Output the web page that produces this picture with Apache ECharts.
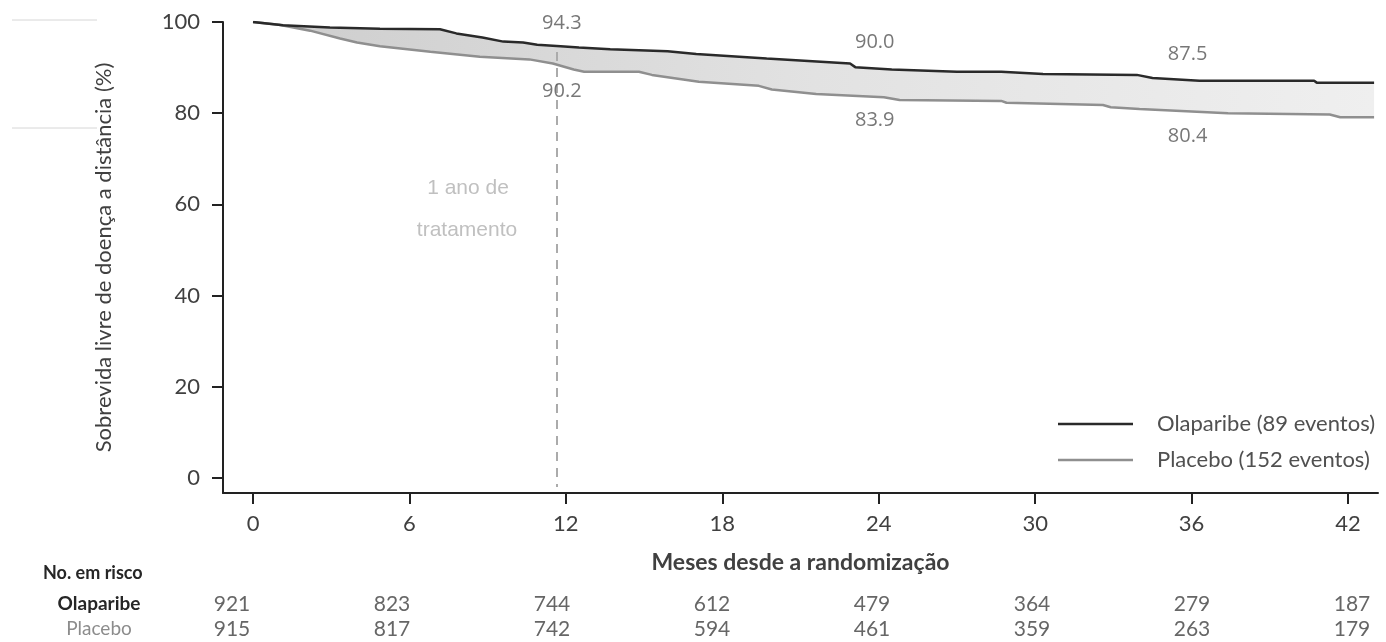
<!DOCTYPE html>
<html><head><meta charset="utf-8">
<script src="https://cdn.jsdelivr.net/npm/echarts@6/dist/echarts.min.js"></script>
<style>html,body{margin:0;padding:0;background:#fff}#c{width:1386px;height:642px}</style>
</head><body><div id="c"></div>
<script>
// ---- data ----
const olaMonths = [0, 1.15, 2.95, 4.87, 7.17, 7.8, 8.8, 9.6, 10.36, 10.9, 11.8, 12.5, 13.7, 15.9, 17.0, 19.7, 22.9, 23.1, 24.5, 27.0, 28.7, 30.3, 33.9, 34.5, 36.3, 40.7, 40.8, 43.0];
const olaValues = [100, 99.3, 98.8, 98.5, 98.4, 97.5, 96.6, 95.7, 95.5, 95.0, 94.7, 94.4, 94.0, 93.6, 93.0, 92.0, 90.9, 90.1, 89.6, 89.1, 89.1, 88.6, 88.4, 87.7, 87.1, 87.1, 86.7, 86.7];
const plaMonths = [0, 1.0, 2.19, 3.34, 3.99, 4.87, 6.8, 8.7, 10.6, 11.5, 12.3, 12.7, 14.8, 15.3, 17.1, 19.4, 19.9, 21.6, 24.2, 24.8, 28.7, 28.9, 32.6, 32.9, 34.0, 37.4, 41.3, 41.7, 43.0];
const plaValues = [100, 99.4, 98.1, 96.4, 95.5, 94.7, 93.5, 92.4, 91.8, 90.9, 89.6, 89.1, 89.1, 88.4, 86.9, 86.0, 85.2, 84.2, 83.5, 82.9, 82.7, 82.3, 81.8, 81.3, 80.9, 80.0, 79.7, 79.1, 79.1];
const xTicks = [0, 6, 12, 18, 24, 30, 36, 42];
const yTicks = [0, 20, 40, 60, 80, 100];
const annoMonths = [12, 24, 36];
const olaAnno = [94.3, 90.0, 87.5];
const plaAnno = [90.2, 83.9, 80.4];
const riskMonths = [0, 6, 12, 18, 24, 30, 36, 42];
const olaRisk = [921, 823, 744, 612, 479, 364, 279, 187];
const plaRisk = [915, 817, 742, 594, 461, 359, 263, 179];
const treatmentMonth = 11.65;
const treatmentTop = 93.4;
const seriesNames = ['Olaparibe (89 eventos)', 'Placebo (152 eventos)'];
const rowNames = ['Olaparibe', 'Placebo'];
const treatmentText = ['1 ano de', 'tratamento'];

// ---- chart ----
const chart = echarts.init(document.getElementById('c'), null, {renderer: 'canvas'});
const FONT = 'Lato';
const axisCol = '#222';
const labelCol = '#404040';

const option = {
  animation: false,
  backgroundColor: '#fff',
  grid: [
    {left: 223, right: 8, top: 22, bottom: 149},
    {left: 232, right: 34, top: 591, height: 58}
  ],
  xAxis: [
    {
      type: 'value', min: -1.151, max: 43.15, gridIndex: 0,
      axisLine: {show: true, onZero: false, lineStyle: {color: axisCol, width: 2}},
      axisTick: {show: true, customValues: xTicks, length: 11, lineStyle: {color: axisCol, width: 2}},
      axisLabel: {customValues: xTicks, margin: 20, fontFamily: FONT, fontSize: 22, color: labelCol},
      splitLine: {show: false},
      name: 'Meses desde a randomização', nameLocation: 'middle', nameGap: 58,
      nameTextStyle: {fontFamily: FONT, fontWeight: 'bold', fontSize: 23, color: labelCol}
    },
    {type: 'value', min: 0, max: 42, gridIndex: 1, show: false}
  ],
  yAxis: [
    {
      type: 'value', min: -3.29, max: 100, gridIndex: 0,
      axisLine: {show: true, onZero: false, lineStyle: {color: axisCol, width: 2}},
      axisTick: {show: true, customValues: yTicks, length: 11, lineStyle: {color: axisCol, width: 2}},
      axisLabel: {customValues: yTicks, margin: 23, fontFamily: FONT, fontSize: 22, color: labelCol},
      splitLine: {show: false},
      name: 'Sobrevida livre de doença a distância (%)', nameLocation: 'middle', nameGap: 108, nameRotate: 90,
      nameTextStyle: {fontFamily: FONT, fontSize: 22, color: labelCol}
    },
    {
      type: 'category', data: rowNames, inverse: true, gridIndex: 1,
      axisLine: {show: false}, axisTick: {show: false},
      axisLabel: {
        margin: 133, align: 'center',
        formatter: function (v, i) { return i === 0 ? '{b|' + v + '}' : '{p|' + v + '}'; },
        rich: {
          b: {fontFamily: FONT, fontSize: 19, fontWeight: 'bold', color: '#262626'},
          p: {fontFamily: FONT, fontSize: 19, color: '#8c8c8c'}
        }
      }
    }
  ],
  legend: {
    data: seriesNames, orient: 'vertical', left: 1053, top: 408,
    icon: 'rect', itemWidth: 75, itemHeight: 2.5, itemGap: 14, selectedMode: false,
    textStyle: {fontFamily: FONT, fontSize: 22, color: '#505050', padding: [0, 0, 0, 19]}
  },
  graphic: [
    {type: 'line', shape: {x1: 12, y1: 20, x2: 97, y2: 20}, style: {stroke: '#d6d6d6', lineWidth: 1}},
    {type: 'line', shape: {x1: 12, y1: 128, x2: 97, y2: 128}, style: {stroke: '#d6d6d6', lineWidth: 1}},
    {type: 'text', left: 43, top: 564, style: {text: 'No. em risco', fontFamily: FONT, fontSize: 18, fontWeight: 'bold', fill: '#262626'}},
    {type: 'text', x: 468, y: 188, style: {text: treatmentText[0], fontFamily: 'Liberation Sans', fontSize: 21, fill: '#c0c0c0', align: 'center', verticalAlign: 'middle'}},
    {type: 'text', x: 467, y: 230, style: {text: treatmentText[1], fontFamily: 'Liberation Sans', fontSize: 21, fill: '#c0c0c0', align: 'center', verticalAlign: 'middle'}}
  ],
  series: [
    {
      type: 'custom', name: 'band', xAxisIndex: 0, yAxisIndex: 0, silent: true, z: 1,
      data: [[0, 100]],
      renderItem: function (params, api) {
        const pts = [];
        for (let i = 0; i < olaMonths.length; i++) pts.push(api.coord([olaMonths[i], olaValues[i]]));
        for (let i = plaMonths.length - 1; i >= 0; i--) pts.push(api.coord([plaMonths[i], plaValues[i]]));
        return {
          type: 'polygon', shape: {points: pts},
          style: {fill: new echarts.graphic.LinearGradient(0, 0, 1, 0, [
            {offset: 0, color: '#cdcdcd'}, {offset: 0.5, color: '#e2e2e2'}, {offset: 1, color: '#efefef'}
          ])}
        };
      }
    },
    {
      type: 'line', name: seriesNames[0], xAxisIndex: 0, yAxisIndex: 0, z: 4,
      data: olaMonths.map((m, i) => [m, olaValues[i]]),
      symbol: 'none', lineStyle: {color: '#2a2a2a', width: 2.5}, itemStyle: {color: '#2a2a2a'},
      markLine: {
        silent: true, symbol: 'none', label: {show: false},
        lineStyle: {color: '#ababab', width: 2, type: [9, 7]},
        data: [[{coord: [treatmentMonth, treatmentTop]}, {coord: [treatmentMonth, -2]}]]
      }
    },
    {
      type: 'line', name: seriesNames[1], xAxisIndex: 0, yAxisIndex: 0, z: 3,
      data: plaMonths.map((m, i) => [m, plaValues[i]]),
      symbol: 'none', lineStyle: {color: '#8f8f8f', width: 2.5}, itemStyle: {color: '#8f8f8f'}
    },
    {
      type: 'scatter', xAxisIndex: 0, yAxisIndex: 0, symbolSize: 0, silent: true, z: 5,
      data: annoMonths.map((m, i) => [m, olaAnno[i]]),
      label: {show: true, position: 'inside', offset: [-4, -25], formatter: p => p.value[1].toFixed(1),
        fontFamily: 'Open Sans', fontSize: 20, color: '#555'}
    },
    {
      type: 'scatter', xAxisIndex: 0, yAxisIndex: 0, symbolSize: 0, silent: true, z: 5,
      data: annoMonths.map((m, i) => [m, plaAnno[i]]),
      label: {show: true, position: 'inside', offset: [-4, 25], formatter: p => p.value[1].toFixed(1),
        fontFamily: 'Open Sans', fontSize: 20, color: '#555'}
    },
    {
      type: 'scatter', xAxisIndex: 1, yAxisIndex: 1, symbolSize: 0, silent: true,
      data: riskMonths.map((m, i) => [m, 0, olaRisk[i]]),
      label: {show: true, position: 'inside', formatter: p => String(p.value[2]),
        fontFamily: FONT, fontSize: 21, color: '#404040'}
    },
    {
      type: 'scatter', xAxisIndex: 1, yAxisIndex: 1, symbolSize: 0, silent: true,
      data: riskMonths.map((m, i) => [m, 1, plaRisk[i]]),
      label: {show: true, position: 'inside', formatter: p => String(p.value[2]),
        fontFamily: FONT, fontSize: 21, color: '#404040'}
    }
  ]
};
chart.setOption(option);
</script>
</body></html>
